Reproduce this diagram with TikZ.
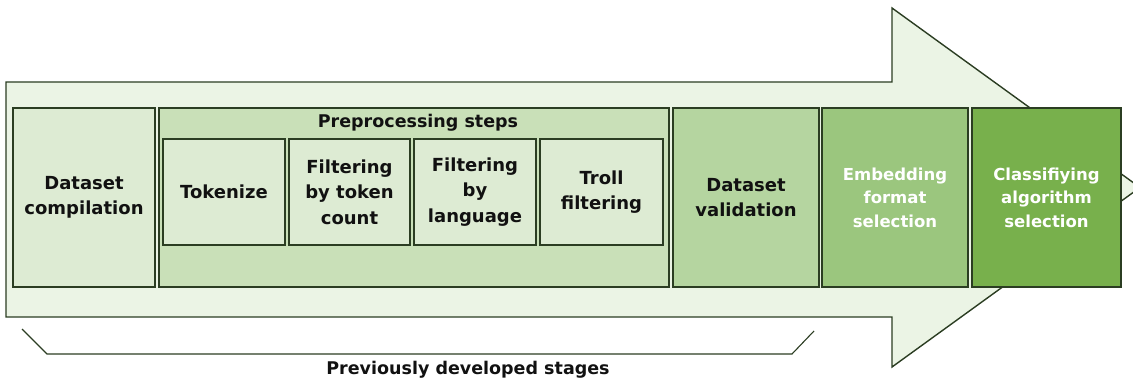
\documentclass[tikz,border=0pt]{standalone}
\usepackage{fontspec}
\setmainfont{DejaVu Sans}
\definecolor{arrowfill}{HTML}{EBF4E5}
\definecolor{lightg}{HTML}{DDEBD3}
\definecolor{midg}{HTML}{C9E0B8}
\definecolor{dvg}{HTML}{B5D5A0}
\definecolor{embg}{HTML}{9BC67E}
\definecolor{clsg}{HTML}{78B04C}
\definecolor{bd}{HTML}{2B3D22}
\definecolor{txt}{HTML}{111111}
\begin{document}
\begin{tikzpicture}[x=1pt,y=-1pt,
  box/.style={draw=bd, line width=1.6pt, inner sep=0pt, outer sep=0pt, align=center,
    font=\bfseries\fontsize{18}{25.5}\selectfont, text=txt},
  bigbox/.style={box, minimum height=179pt},
  smallbox/.style={box, fill=lightg, minimum height=106pt},
  whitetext/.style={text=white, font=\bfseries\fontsize{16.5}{23.5}\selectfont},
  lbl/.style={font=\bfseries\fontsize{17.5}{22}\selectfont, text=txt, inner sep=0pt}
]
\useasboundingbox (0,0) rectangle (1133,385);
% big arrow
\draw[fill=arrowfill, draw=bd, line width=1.4pt]
  (6,82) -- (892,82) -- (892,8) -- (1140,187.5) -- (892,367) -- (892,317) -- (6,317) -- cycle;
% stages
\node[bigbox, fill=lightg, minimum width=142pt] (dc) at (84,197.5) {Dataset\\compilation};
\node[bigbox, fill=midg, minimum width=510pt] (pre) at (414,197.5) {};
\node[lbl] (prel) at (418,123) {Preprocessing steps};
\node[smallbox, minimum width=122pt] (tok) at (224,192) {Tokenize};
\node[smallbox, minimum width=121pt] (ftc) at (349.5,192) {Filtering\\by token\\count};
\node[smallbox, minimum width=122pt] (fl) at (475,192) {Filtering\\by\\language};
\node[smallbox, minimum width=123pt] (tf) at (601.5,192) {Troll\\filtering};
\node[bigbox, fill=dvg, minimum width=146pt] (dv) at (746,197.5) {Dataset\\validation};
\node[bigbox, fill=embg, minimum width=146pt, whitetext] (emb) at (895,197.5) {Embedding\\format\\selection};
\node[bigbox, fill=clsg, minimum width=149pt, whitetext] (cls) at (1046.5,197.5) {Classifiying\\algorithm\\selection};
% bracket
\coordinate (b1) at (22,329);
\coordinate (b2) at (47,354);
\coordinate (b3) at (792,354);
\coordinate (b4) at (814,331);
\draw[draw=bd, line width=1.1pt] (b1) -- (b2) -- (b3) -- (b4);
\node[lbl] (prev) at (468,370) {Previously developed stages};
\end{tikzpicture}
\end{document}
